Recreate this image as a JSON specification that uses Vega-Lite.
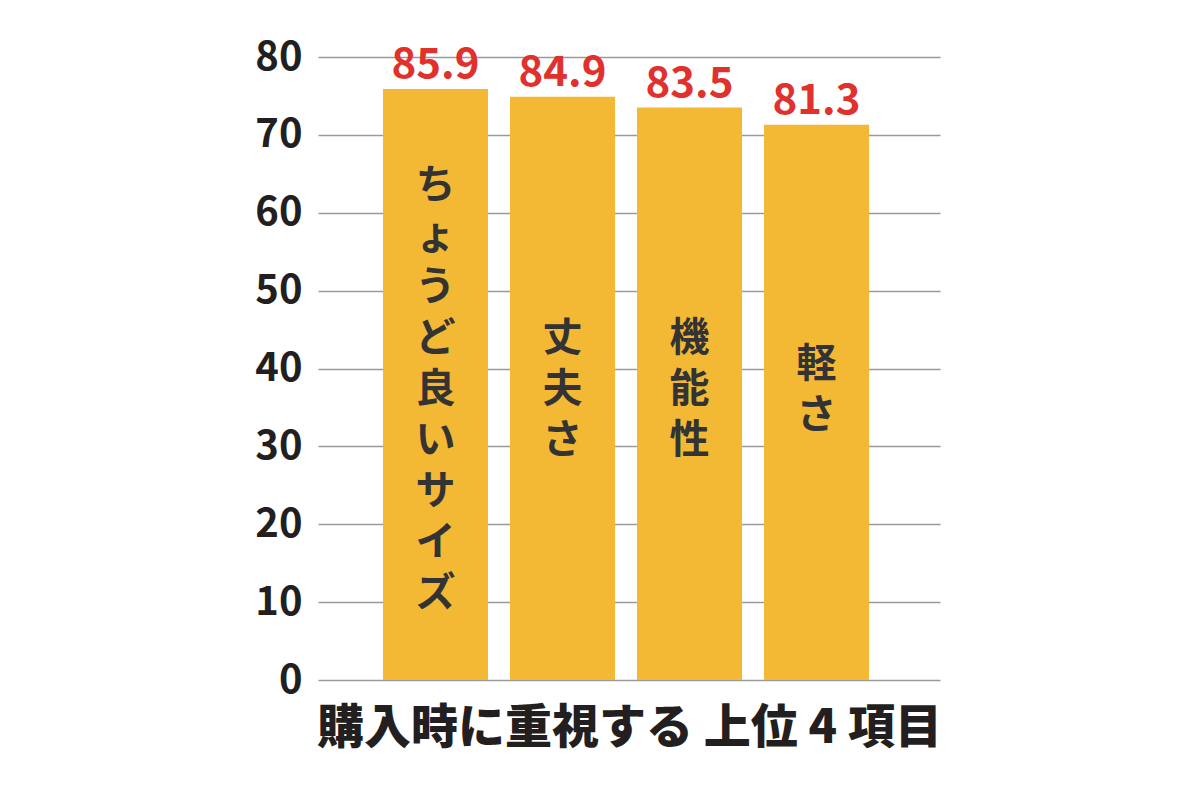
{
  "$schema": "https://vega.github.io/schema/vega-lite/v6.json",
  "width": 622,
  "height": 623,
  "autosize": {"type": "none"},
  "padding": {"left": 318, "top": 57, "right": 260, "bottom": 120},
  "background": "white",
  "view": {"stroke": null},
  "data": {
    "values": [
      {"item": "ちょうど良いサイズ", "label": "ち\nょ\nう\nど\n良\nい\nサ\nイ\nズ", "chars": 9, "value": 85.9, "shown": 75.9},
      {"item": "丈夫さ", "label": "丈\n夫\nさ", "chars": 3, "value": 84.9, "shown": 74.9},
      {"item": "機能性", "label": "機\n能\n性", "chars": 3, "value": 83.5, "shown": 73.5},
      {"item": "軽さ", "label": "軽\nさ", "chars": 2, "value": 81.3, "shown": 71.3}
    ]
  },
  "encoding": {
    "x": {
      "field": "item",
      "type": "nominal",
      "sort": null,
      "scale": {"paddingInner": 0.173, "paddingOuter": 0.535, "align": 0.478},
      "axis": {
        "title": "購入時に重視する 上位 4 項目",
        "labels": false,
        "ticks": false,
        "domain": false,
        "titleFont": "Noto Sans CJK JP",
        "titleFontSize": 47,
        "titleFontWeight": 900,
        "titleColor": "#231f20",
        "titlePadding": 25
      }
    }
  },
  "layer": [
    {
      "mark": {"type": "bar", "color": "#f3b935"},
      "encoding": {
        "y": {
          "field": "shown",
          "type": "quantitative",
          "scale": {"domain": [0, 80]},
          "axis": {
            "title": null,
            "values": [0, 10, 20, 30, 40, 50, 60, 70, 80],
            "domain": false,
            "ticks": false,
            "grid": true,
            "gridColor": "#9a9a9a",
            "gridWidth": 1.5,
            "labelFont": "Noto Sans CJK JP",
            "labelFontSize": 40,
            "labelFontWeight": "bold",
            "labelColor": "#231f20",
            "labelPadding": 16
          }
        }
      }
    },
    {
      "mark": {
        "type": "text",
        "baseline": "bottom",
        "dy": -2,
        "font": "Noto Sans CJK JP",
        "fontSize": 42,
        "fontWeight": "bold",
        "color": "#e1312d"
      },
      "encoding": {
        "y": {"field": "shown", "type": "quantitative"},
        "text": {"field": "value", "type": "quantitative", "format": ".1f"}
      }
    },
    {
      "mark": {
        "type": "text",
        "baseline": "middle",
        "lineBreak": "\n",
        "lineHeight": 51,
        "font": "Noto Sans CJK JP",
        "fontSize": 40,
        "fontWeight": "bold",
        "color": "#333333"
      },
      "encoding": {
        "y": {"datum": 37.2, "type": "quantitative"},
        "yOffset": {
          "field": "chars",
          "type": "quantitative",
          "scale": {"type": "linear", "domain": [0, 10], "range": [25.5, -229.5]}
        },
        "text": {"field": "label", "type": "nominal"}
      }
    }
  ]
}
